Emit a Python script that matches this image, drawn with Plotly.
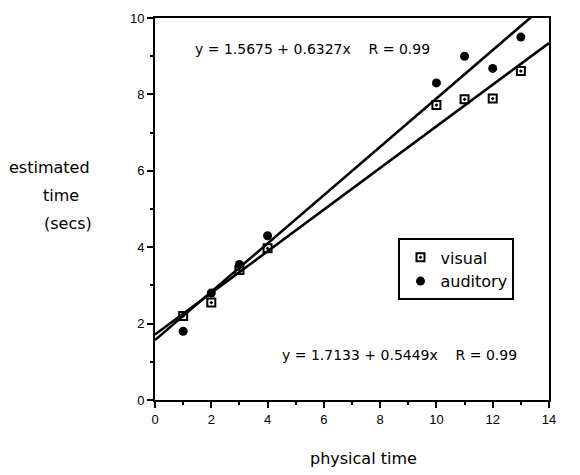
import plotly.graph_objects as go

physical_time = [1, 2, 3, 4, 10, 11, 12, 13]
visual = [2.2, 2.55, 3.4, 3.97, 7.72, 7.87, 7.89, 8.61]
auditory = [1.8, 2.8, 3.55, 4.3, 8.3, 9.0, 8.68, 9.5]

fit_range = [0, 14]
visual_fit = (1.7133, 0.5449)
auditory_fit = (1.5675, 0.6327)

eq_auditory = "y = 1.5675 + 0.6327x    R = 0.99"
eq_visual = "y = 1.7133 + 0.5449x    R = 0.99"
y_title_lines = ["estimated", "time", "(secs)"]
x_title = "physical time"

font = "DejaVu Sans, sans-serif"
tickfont = "Liberation Sans, Arial, sans-serif"

W, H = 580, 475
L, R, T, B = 147, 39, 10, 83
PW, PH = W - L - R, H - T - B

fig = go.Figure()
for a, b in (visual_fit, auditory_fit):
    fig.add_trace(go.Scatter(
        x=fit_range, y=[a + b * v for v in fit_range], mode="lines",
        line=dict(color="black", width=2.6), showlegend=False, hoverinfo="skip"))

fig.add_trace(go.Scatter(
    x=physical_time, y=visual, mode="markers", name="visual",
    marker=dict(symbol="square-open-dot", size=8, color="black",
                line=dict(width=2, color="black"))))
fig.add_trace(go.Scatter(
    x=physical_time, y=auditory, mode="markers", name="auditory",
    marker=dict(symbol="circle", size=9, color="black")))

fig.add_annotation(x=5.6, y=9.19, xref="x", yref="y", text=eq_auditory, showarrow=False,
                   font=dict(size=14, color="black", family=font))
fig.add_annotation(x=8.7, y=1.17, xref="x", yref="y", text=eq_visual, showarrow=False,
                   font=dict(size=14, color="black", family=font))

for txt, xp, yp in zip(y_title_lines, (42, 53, 60), (159, 187, 216)):
    fig.add_annotation(x=(xp - L) / PW, y=(H - yp - B) / PH, xref="paper", yref="paper",
                       xanchor="center", yanchor="middle", text=txt,
                       showarrow=False, font=dict(size=16, color="black", family=font))

fig.add_annotation(x=(355 - L) / PW, y=(H - 450 - B) / PH, xref="paper", yref="paper",
                   xanchor="center", yanchor="middle", text=x_title,
                   showarrow=False, font=dict(size=16, color="black", family=font))

axis_common = dict(
    showgrid=False, zeroline=False, showline=True, linecolor="black", linewidth=2,
    mirror=True, ticks="outside", ticklen=6, tickwidth=2, tickcolor="black",
    tickfont=dict(size=13, color="black", family=tickfont),
)

fig.update_xaxes(range=[0, 14], dtick=2, tick0=0,
                 minor=dict(dtick=1, ticks="outside", ticklen=3, tickwidth=2, tickcolor="black"),
                 **axis_common)
fig.update_yaxes(range=[0, 10], dtick=2, tick0=0,
                 minor=dict(dtick=1, ticks="outside", ticklen=3, tickwidth=2, tickcolor="black"),
                 **axis_common)

fig.update_layout(
    width=W, height=H,
    margin=dict(l=L, r=R, t=T, b=B, autoexpand=False),
    paper_bgcolor="white", plot_bgcolor="white",
    font=dict(family=font, color="black"),
    legend=dict(x=0.618, y=0.423, xanchor="left", yanchor="top",
                bordercolor="black", borderwidth=2, bgcolor="white",
                font=dict(size=16, color="black", family=font),
                itemwidth=30, tracegroupgap=2),
)

fig.write_html("out.html")
